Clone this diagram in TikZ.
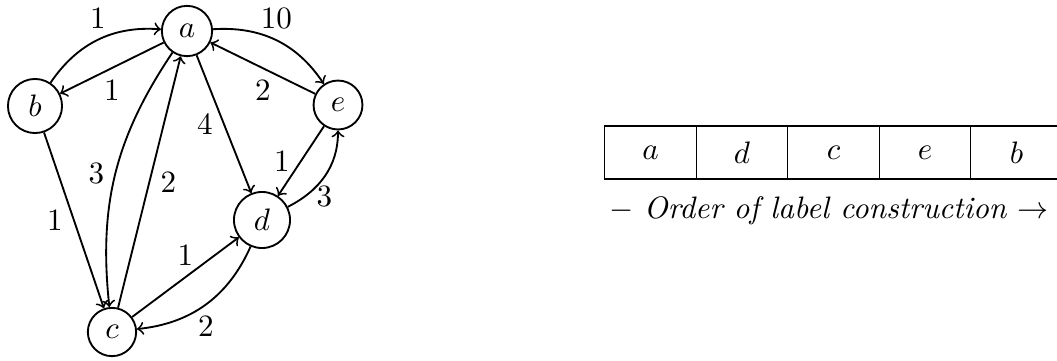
\documentclass[tikz,border=0pt]{standalone}
\usetikzlibrary{positioning}
\begin{document}
\begin{tikzpicture}[x=0.322pt,y=-0.322pt,
  vert/.style={draw,circle,semithick},
  arr/.style={->,semithick},
  cell/.style={draw,thin,minimum width=29.5pt,minimum height=17pt,inner sep=0pt},
  lab/.style={inner sep=3.33pt}]
\useasboundingbox (0,0) rectangle (1057,360);
\node[vert] (a) at (187,31) {$a$};
\node[vert] (b) at (35,106) {$b$};
\node[vert] (e) at (338,105) {$e$};
\node[vert] (d) at (262,220) {$d$};
\node[vert] (c) at (112,332) {$c$};

\draw[arr] (b) to[bend left=30] node[lab,above] {1} (a);
\draw[arr] (a) -- node[lab,below] {1} (b);
\draw[arr] (a) to[bend left=30] node[lab,above] {10} (e);
\draw[arr] (e) -- node[lab,below] {2} (a);
\draw[arr] (a) -- node[lab,left] {4} (d);
\draw[arr] (e) -- node[lab,left] {1} (d);
\draw[arr] (d) to[out=27,in=-90] node[lab,pos=0.2,right] {3} (e);
\draw[arr] (a) to[bend right=20] node[lab,left] {3} (c);
\draw[arr] (c) -- node[lab,right] {2} (a);
\draw[arr] (b) -- node[lab,left] {1} (c);
\draw[arr] (c) -- node[lab,above] {1} (d);
\draw[arr] (d) to[bend left=30] node[lab,below] {2} (c);

\node[cell] (t1) at (650.5,152.5) {$a$};
\node[cell] (t2) at (742,152.5) {$d$};
\node[cell] (t3) at (833.5,152.5) {$c$};
\node[cell] (t4) at (925,152.5) {$e$};
\node[cell] (t5) at (1016.5,152.5) {$b$};
\node (cap) at (829,211) {$-$ \textit{Order of label construction} $\rightarrow$};
\end{tikzpicture}
\end{document}
